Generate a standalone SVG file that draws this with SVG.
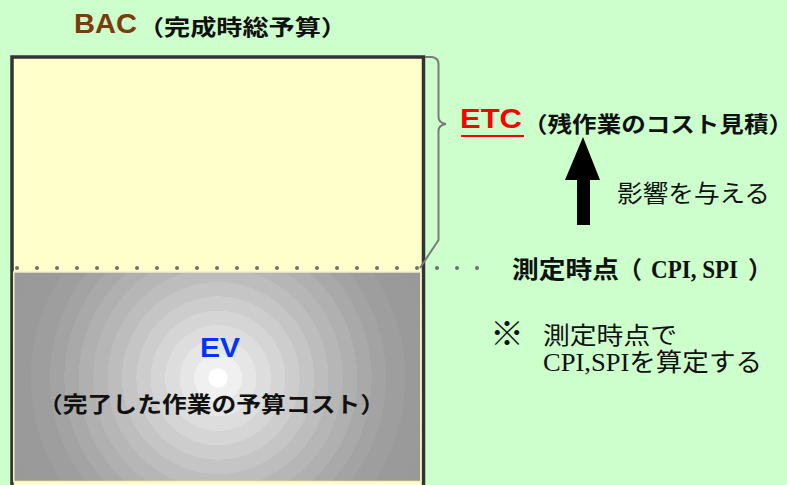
<svg xmlns="http://www.w3.org/2000/svg" width="787" height="485" viewBox="0 0 787 485">
<defs>
<radialGradient id="evg" gradientUnits="userSpaceOnUse" cx="218" cy="378" r="240">
<stop offset="0" stop-color="#ffffff"/>
<stop offset="0.04" stop-color="#ffffff"/>
<stop offset="0.04" stop-color="#f0f0f0"/>
<stop offset="0.1" stop-color="#f0f0f0"/>
<stop offset="0.1" stop-color="#e6e6e6"/>
<stop offset="0.16" stop-color="#e6e6e6"/>
<stop offset="0.16" stop-color="#dddddd"/>
<stop offset="0.22" stop-color="#dddddd"/>
<stop offset="0.22" stop-color="#d5d5d5"/>
<stop offset="0.28" stop-color="#d5d5d5"/>
<stop offset="0.28" stop-color="#cdcdcd"/>
<stop offset="0.34" stop-color="#cdcdcd"/>
<stop offset="0.34" stop-color="#c5c5c5"/>
<stop offset="0.40" stop-color="#c5c5c5"/>
<stop offset="0.40" stop-color="#bdbdbd"/>
<stop offset="0.46" stop-color="#bdbdbd"/>
<stop offset="0.46" stop-color="#b6b6b6"/>
<stop offset="0.52" stop-color="#b6b6b6"/>
<stop offset="0.52" stop-color="#b0b0b0"/>
<stop offset="0.58" stop-color="#b0b0b0"/>
<stop offset="0.58" stop-color="#a9a9a9"/>
<stop offset="0.64" stop-color="#a9a9a9"/>
<stop offset="0.64" stop-color="#a3a3a3"/>
<stop offset="0.70" stop-color="#a3a3a3"/>
<stop offset="0.70" stop-color="#9e9e9e"/>
<stop offset="0.78" stop-color="#9e9e9e"/>
<stop offset="0.78" stop-color="#9a9a9a"/>
<stop offset="1" stop-color="#999999"/>
</radialGradient>
<style>
.jp{font-family:"Liberation Sans","Noto Sans CJK JP",sans-serif;font-weight:bold;fill:#111}
.lat{font-family:"Liberation Sans","Noto Sans CJK JP",sans-serif;font-weight:bold}
.ser{font-family:"Liberation Serif","Noto Sans CJK JP",serif;fill:#111}
.mark{font-family:"Noto Sans CJK JP",sans-serif;font-weight:bold;fill:#111}
</style>
</defs>
<rect width="787" height="485" fill="#ccffcc"/>
<g id="bac-box">
<rect x="12" y="57" width="411.5" height="440" fill="#ffffcc" stroke="#333333" stroke-width="3.5"/>
</g>
<g id="ev-box">
<rect x="13.75" y="272" width="407" height="209.5" fill="url(#evg)" stroke="#f4f0c0" stroke-width="1.5"/>
</g>
<g id="connectors" fill="none">
<path d="M425,57 L432,57 Q438.5,58 438.5,64 L438.5,117 Q438.5,123 446,124 Q438.5,125 438.5,131 L438.5,240 L420,268" stroke="#7a7a7a" stroke-width="2"/>
<line x1="17" y1="268" x2="478" y2="268" stroke="#6f6f6f" stroke-width="4" stroke-linecap="round" stroke-dasharray="0 20"/>
<path d="M577,225 L577,180 L565,180 L583,137 L600,180 L590,180 L590,225 Z" fill="#000000"/>
</g>
<g id="bac-label">
<text x="74" y="33" class="lat" font-size="28" fill="#7a3c0a" textLength="63" lengthAdjust="spacingAndGlyphs">BAC</text>
<text x="138" y="35" class="jp" font-size="22" textLength="209" lengthAdjust="spacingAndGlyphs">（完成時総予算）</text>
</g>
<g id="etc-label">
<text x="460" y="128" class="lat" font-size="28" fill="#ff0000" textLength="62" lengthAdjust="spacingAndGlyphs">ETC</text>
<line x1="461" y1="136" x2="524" y2="136" stroke="#ff0000" stroke-width="2"/>
<text x="523" y="132" class="jp" font-size="22" textLength="270" lengthAdjust="spacingAndGlyphs">（残作業のコスト見積）</text>
</g>
<g id="influence-label">
<text x="617" y="202" class="jp" font-size="24" textLength="153" lengthAdjust="spacingAndGlyphs" style="font-weight:normal">影響を与える</text>
</g>
<g id="measure-label">
<text y="278" class="jp" font-size="24"><tspan x="512" textLength="107" lengthAdjust="spacingAndGlyphs">測定時点</tspan><tspan x="618">（</tspan><tspan x="651" class="ser" font-weight="bold" font-size="26" textLength="87" lengthAdjust="spacingAndGlyphs">CPI, SPI</tspan><tspan x="748">）</tspan></text>
</g>
<g id="note-label">
<text x="490" y="346" class="mark" font-size="34">※</text>
<text x="543" y="344" class="ser" font-size="24" textLength="134" lengthAdjust="spacingAndGlyphs">測定時点で</text>
<text x="543" y="371" class="ser" font-size="25" textLength="219" lengthAdjust="spacingAndGlyphs">CPI,SPIを算定する</text>
</g>
<g id="ev-label">
<text x="200" y="357" class="lat" font-size="28" fill="#0033ff" textLength="40" lengthAdjust="spacingAndGlyphs">EV</text>
<text x="38" y="412" class="jp" font-size="22" textLength="347" lengthAdjust="spacingAndGlyphs">（完了した作業の予算コスト）</text>
</g>
</svg>
